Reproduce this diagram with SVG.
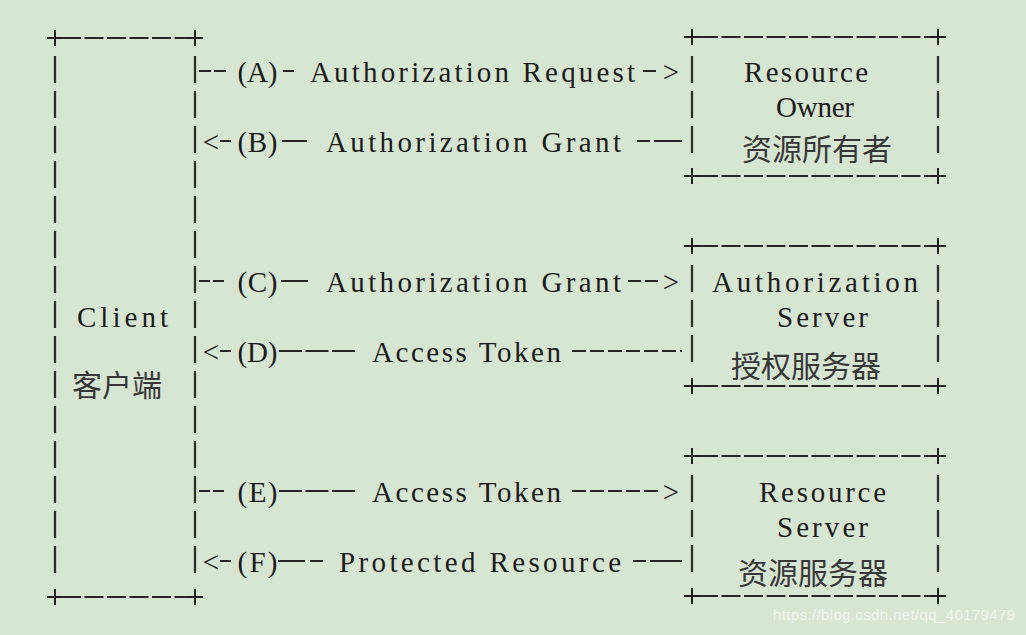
<svg xmlns="http://www.w3.org/2000/svg" width="1026" height="635" viewBox="0 0 1026 635">
<defs>
<style>
.bg{fill:#d7e5d3}
.hl{stroke:#262626;stroke-width:2;fill:none;stroke-dasharray:19 3.5}
.vl{stroke:#2e2e2e;stroke-width:2.3;fill:none;stroke-dasharray:27 8}
.pl{stroke:#1e1e1e;stroke-width:2;fill:none}
.t{font-family:"Liberation Serif","Times New Roman",serif;font-size:29px;fill:#1c1c1c;text-anchor:middle;lengthAdjust:spacing}
.cn{font-family:"Noto Sans CJK SC","Noto Sans CJK JP",sans-serif;font-size:30px;fill:#383838;text-anchor:middle}
.d{stroke:#262626;stroke-width:2;fill:none}
.wm{font-family:"Liberation Sans",Arial,sans-serif;font-size:15px;fill:#f2f6f0}
</style>
<path id="plus" d="M-8 0H8M0 -8V8"/>
</defs>
<rect class="bg" width="1026" height="635"/>

<g id="client">
<line class="hl" x1="62" y1="38" x2="188" y2="38"/>
<line class="hl" x1="62" y1="597" x2="188" y2="597"/>
<line class="vl" x1="55" y1="56" x2="55" y2="573"/>
<line class="vl" x1="195" y1="56" x2="195" y2="573"/>
<use href="#plus" class="pl" x="55" y="38"/>
<use href="#plus" class="pl" x="195" y="38"/>
<use href="#plus" class="pl" x="55" y="597"/>
<use href="#plus" class="pl" x="195" y="597"/>
<text class="t" x="122.5" y="327" textLength="91">Client</text>
<text class="cn" x="117" y="396">客户端</text>
</g>

<g id="resource-owner">
<line class="hl" x1="699" y1="37" x2="931" y2="37"/>
<line class="hl" x1="699" y1="176" x2="931" y2="176"/>
<line class="vl" x1="692" y1="56" x2="692" y2="153"/>
<line class="vl" x1="938" y1="56" x2="938" y2="153"/>
<use href="#plus" class="pl" x="692" y="37"/>
<use href="#plus" class="pl" x="938" y="37"/>
<use href="#plus" class="pl" x="692" y="176"/>
<use href="#plus" class="pl" x="938" y="176"/>
<text class="t" x="806" y="82" textLength="124">Resource</text>
<text class="t" x="815" y="117" textLength="78">Owner</text>
<text class="cn" x="817" y="160">资源所有者</text>
</g>

<g id="authorization-server">
<line class="hl" x1="699" y1="246" x2="931" y2="246"/>
<line class="hl" x1="699" y1="386" x2="931" y2="386"/>
<line class="vl" x1="692" y1="265" x2="692" y2="362"/>
<line class="vl" x1="938" y1="265" x2="938" y2="362"/>
<use href="#plus" class="pl" x="692" y="246"/>
<use href="#plus" class="pl" x="938" y="246"/>
<use href="#plus" class="pl" x="692" y="386"/>
<use href="#plus" class="pl" x="938" y="386"/>
<text class="t" x="815" y="292" textLength="206">Authorization</text>
<text class="t" x="822.5" y="327" textLength="91">Server</text>
<text class="cn" x="806" y="377">授权服务器</text>
</g>

<g id="resource-server">
<line class="hl" x1="699" y1="456" x2="931" y2="456"/>
<line class="hl" x1="699" y1="596" x2="931" y2="596"/>
<line class="vl" x1="692" y1="475" x2="692" y2="572"/>
<line class="vl" x1="938" y1="475" x2="938" y2="572"/>
<use href="#plus" class="pl" x="692" y="456"/>
<use href="#plus" class="pl" x="938" y="456"/>
<use href="#plus" class="pl" x="692" y="596"/>
<use href="#plus" class="pl" x="938" y="596"/>
<text class="t" x="822.5" y="502" textLength="127">Resource</text>
<text class="t" x="822.5" y="537" textLength="91">Server</text>
<text class="cn" x="813" y="584">资源服务器</text>
</g>

<g id="connectors">
<!-- A -->
<line class="d" x1="199" y1="71" x2="226" y2="71" stroke-dasharray="12 3"/>
<text class="t" x="257.5" y="82" textLength="40">(A)</text>
<line class="d" x1="283" y1="71" x2="294" y2="71"/>
<text class="t" x="472.5" y="82" textLength="325">Authorization Request</text>
<line class="d" x1="643" y1="71" x2="656" y2="71"/>
<text class="t" x="671" y="82">&gt;</text>
<!-- B -->
<text class="t" x="211" y="152">&lt;</text>
<line class="d" x1="220" y1="141" x2="231" y2="141"/>
<text class="t" x="257.5" y="152" textLength="40">(B)</text>
<line class="d" x1="282" y1="141" x2="307" y2="141"/>
<text class="t" x="473.5" y="152" textLength="295">Authorization Grant</text>
<line class="d" x1="637" y1="141" x2="650" y2="141"/>
<line class="d" x1="654" y1="141" x2="682" y2="141"/>
<!-- C -->
<line class="d" x1="199" y1="281" x2="224" y2="281" stroke-dasharray="11 3"/>
<text class="t" x="257.5" y="292" textLength="40">(C)</text>
<line class="d" x1="281" y1="281" x2="308" y2="281"/>
<text class="t" x="473.5" y="292" textLength="295">Authorization Grant</text>
<line class="d" x1="628" y1="281" x2="658" y2="281" stroke-dasharray="13 4"/>
<text class="t" x="671" y="292">&gt;</text>
<!-- D -->
<text class="t" x="211" y="362">&lt;</text>
<line class="d" x1="220" y1="351" x2="231" y2="351"/>
<text class="t" x="257.5" y="362" textLength="40">(D)</text>
<line class="d" x1="279" y1="351" x2="355" y2="351" stroke-dasharray="23 3.5"/>
<text class="t" x="466.5" y="362" textLength="189">Access Token</text>
<line class="d" x1="572" y1="351" x2="682" y2="351" stroke-dasharray="14 4"/>
<!-- E -->
<line class="d" x1="199" y1="491" x2="224" y2="491" stroke-dasharray="11 3"/>
<text class="t" x="257.5" y="502" textLength="40">(E)</text>
<line class="d" x1="279" y1="491" x2="355" y2="491" stroke-dasharray="23 3.5"/>
<text class="t" x="466.5" y="502" textLength="189">Access Token</text>
<line class="d" x1="572" y1="491" x2="660" y2="491" stroke-dasharray="14 4"/>
<text class="t" x="671" y="502">&gt;</text>
<!-- F -->
<text class="t" x="211" y="572">&lt;</text>
<line class="d" x1="220" y1="561" x2="231" y2="561"/>
<text class="t" x="257.5" y="572" textLength="40">(F)</text>
<line class="d" x1="278" y1="561" x2="305" y2="561"/>
<line class="d" x1="310" y1="561" x2="323" y2="561"/>
<text class="t" x="480" y="572" textLength="282">Protected Resource</text>
<line class="d" x1="633" y1="561" x2="646" y2="561"/>
<line class="d" x1="650" y1="561" x2="682" y2="561"/>
</g>

<text class="wm" x="773" y="620" textLength="242">https://blog.csdn.net/qq_40179479</text>
</svg>
